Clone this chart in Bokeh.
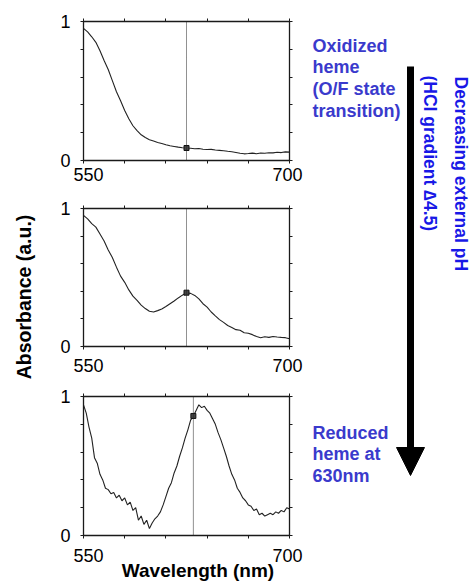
import numpy as np
from bokeh.plotting import figure
from bokeh.layouts import column
from bokeh.models import (Range1d, LinearAxis, FixedTicker, Span, Label, Arrow,
                          NormalHead, GridBox)
from bokeh.embed import file_html
from bokeh.resources import INLINE

# ---------------- data ----------------
WL_A = list(range(550, 701, 3))   # sampling grid, panels 1 and 2 (nm)
WL_B = list(range(550, 701, 2))   # sampling grid, panel 3 (nm)

ABS_OXIDIZED = [0.95, 0.925, 0.89, 0.85, 0.79, 0.72, 0.655, 0.575, 0.495, 0.43,
                0.36, 0.30, 0.25, 0.215, 0.185, 0.165, 0.15, 0.14, 0.13, 0.122,
                0.113, 0.106, 0.101, 0.096, 0.092, 0.09, 0.088, 0.085, 0.086, 0.081,
                0.079, 0.080, 0.076, 0.073, 0.070, 0.066, 0.063, 0.058, 0.052, 0.048,
                0.050, 0.053, 0.049, 0.054, 0.052, 0.056, 0.055, 0.059, 0.057, 0.062,
                0.060]

ABS_MIDWAY = [0.95, 0.925, 0.89, 0.865, 0.815, 0.765, 0.70, 0.645, 0.575, 0.51,
              0.465, 0.41, 0.365, 0.335, 0.30, 0.275, 0.255, 0.25, 0.26, 0.272,
              0.29, 0.31, 0.33, 0.352, 0.372, 0.39, 0.385, 0.37, 0.345, 0.31,
              0.285, 0.25, 0.222, 0.195, 0.175, 0.152, 0.138, 0.122, 0.118, 0.10,
              0.096, 0.086, 0.072, 0.064, 0.071, 0.066, 0.073, 0.069, 0.066, 0.064,
              0.056]

ABS_REDUCED = [0.94, 0.88, 0.78, 0.70, 0.56, 0.52, 0.44, 0.40, 0.34, 0.33,
               0.30, 0.31, 0.27, 0.29, 0.25, 0.27, 0.22, 0.24, 0.18, 0.20,
               0.11, 0.14, 0.08, 0.11, 0.05, 0.09, 0.12, 0.14, 0.17, 0.22,
               0.28, 0.34, 0.38, 0.45, 0.50, 0.57, 0.63, 0.70, 0.76, 0.83,
               0.86, 0.90, 0.94, 0.92, 0.93, 0.90, 0.88, 0.84, 0.80, 0.74,
               0.69, 0.63, 0.57, 0.50, 0.44, 0.40, 0.34, 0.31, 0.27, 0.25,
               0.22, 0.21, 0.18, 0.19, 0.15, 0.16, 0.14, 0.15, 0.16, 0.15,
               0.17, 0.16, 0.18, 0.17, 0.20, 0.19]

MARK_WL = [625, 625, 630]          # dotted marker lines (nm)
X_MAJOR = [550, 700]
X_MINOR = [580, 610, 640, 670]
Y_MAJOR = [0, 1]
Y_MINOR = [0.2, 0.4, 0.6, 0.8]
X_TICK_LABELS = ["550", "700"]

TXT_OXIDIZED = "Oxidized\nheme\n(O/F state\ntransition)"
TXT_REDUCED = "Reduced\nheme at\n630nm"
TXT_PH = "Decreasing external pH"
TXT_HCL = "(HCl gradient \u22064.5)"
TXT_YLABEL = "Absorbance (a.u.)"
TXT_XLABEL = "Wavelength (nm)"

FONT = "Liberation Sans"
BLUE_A = "#3a3acc"
BLUE_B = "#1818e6"
INK = "#1a1a1a"
W, H = 471, 581


def style_axis(ax, is_x, show_labels):
    if is_x:
        ax.ticker = FixedTicker(ticks=X_MAJOR, minor_ticks=X_MINOR)
    else:
        ax.ticker = FixedTicker(ticks=Y_MAJOR, minor_ticks=Y_MINOR)
    ax.major_tick_in = 0
    ax.major_tick_out = 3
    ax.minor_tick_in = 0
    ax.minor_tick_out = 3
    ax.axis_line_color = INK
    ax.axis_line_width = 1.3
    ax.major_tick_line_color = INK
    ax.minor_tick_line_color = INK
    ax.major_tick_line_width = 1
    ax.minor_tick_line_width = 1
    if show_labels:
        ax.major_label_text_font = FONT
        ax.major_label_text_font_size = "18px"
        ax.major_label_text_color = "black"
        ax.major_label_standoff = 10
    else:
        ax.major_label_text_font_size = "1px"
        ax.major_label_text_color = None
        ax.major_label_standoff = 0


def panel(wl, ab, mark_wl, height, bl, bt, bb, frame_w):
    p = figure(width=W, height=height, x_range=Range1d(550, 700), y_range=Range1d(0, 1),
               output_backend="svg", toolbar_location=None, tools="",
               min_border_left=bl, min_border_right=W - bl - frame_w,
               min_border_top=bt, min_border_bottom=bb)
    p.add_layout(LinearAxis(), "above")
    p.add_layout(LinearAxis(), "right")
    style_axis(p.below[0], True, False)
    style_axis(p.above[0], True, False)
    style_axis(p.left[0], False, True)
    style_axis(p.right[0], False, False)
    p.grid.visible = False
    p.outline_line_color = INK
    p.background_fill_color = "white"
    p.border_fill_color = "white"

    p.add_layout(Span(location=mark_wl, dimension="height", line_color="#222",
                      line_dash="1 1", line_width=1))
    p.line(wl, ab, line_color="#222", line_width=1.1)
    p.scatter([mark_wl], [float(np.interp(mark_wl, wl, ab))], marker="square", size=5,
              fill_color="#444", line_color="#111")
    return p


f1 = panel(WL_A, ABS_OXIDIZED, MARK_WL[0], 190, 79, 21, 30, 210)
f2 = panel(WL_A, ABS_MIDWAY, MARK_WL[1], 195, 79, 18, 39, 210)
f3 = panel(WL_B, ABS_REDUCED, MARK_WL[2], 196, 83, 11, 46, 208)
panels = column(f1, f2, f3)

# transparent overlay for the free texts and the arrow (coordinates = page pixels)
ov = figure(width=W, height=H, x_range=Range1d(0, W), y_range=Range1d(H, 0),
            output_backend="svg", toolbar_location=None, tools="", min_border=0,
            x_axis_location=None, y_axis_location=None)
ov.grid.visible = False
ov.outline_line_color = None
ov.background_fill_alpha = 0
ov.border_fill_alpha = 0

# x tick labels under each panel (550 left-aligned, 700 right-aligned)
for yc in [173.5, 364.5, 554.5]:
    ov.add_layout(Label(x=73, y=yc, text=X_TICK_LABELS[0], text_align="left",
                        text_baseline="middle", text_font=FONT, text_font_size="18px",
                        text_color="black"))
    ov.add_layout(Label(x=302, y=yc, text=X_TICK_LABELS[1], text_align="right",
                        text_baseline="middle", text_font=FONT, text_font_size="18px",
                        text_color="black"))

ov.add_layout(Label(x=23, y=296.5, text=TXT_YLABEL, angle=np.pi / 2, text_align="center",
                    text_baseline="middle", text_font=FONT, text_font_style="bold",
                    text_font_size="19.5px", text_color="black"))
ov.add_layout(Label(x=197.5, y=569.5, text=TXT_XLABEL, text_align="center",
                    text_baseline="middle", text_font=FONT, text_font_style="bold",
                    text_font_size="19px", text_color="black"))

ov.add_layout(Arrow(end=NormalHead(size=28, fill_color="black", line_color="black", line_width=1),
                    x_start=410, y_start=66, x_end=410, y_end=475,
                    line_width=7, line_color="black"))
ov.add_layout(Label(x=312, y=35, text=TXT_OXIDIZED, text_align="left", text_baseline="top",
                    text_font=FONT, text_font_style="bold", text_font_size="18px",
                    text_color=BLUE_A, text_line_height=1.09))
ov.add_layout(Label(x=312, y=422, text=TXT_REDUCED, text_align="left", text_baseline="top",
                    text_font=FONT, text_font_style="bold", text_font_size="18px",
                    text_color=BLUE_A, text_line_height=1.09))
ov.add_layout(Label(x=460.5, y=76, text=TXT_PH, angle=-np.pi / 2, text_align="left",
                    text_baseline="middle", text_font=FONT, text_font_style="bold",
                    text_font_size="17.5px", text_color=BLUE_B))
ov.add_layout(Label(x=429.5, y=75, text=TXT_HCL, angle=-np.pi / 2, text_align="left",
                    text_baseline="middle", text_font=FONT, text_font_style="bold",
                    text_font_size="17.5px", text_color=BLUE_B))

layout = GridBox(children=[(panels, 0, 0), (ov, 0, 0)])
open("out.html", "w").write(file_html(layout, INLINE))
